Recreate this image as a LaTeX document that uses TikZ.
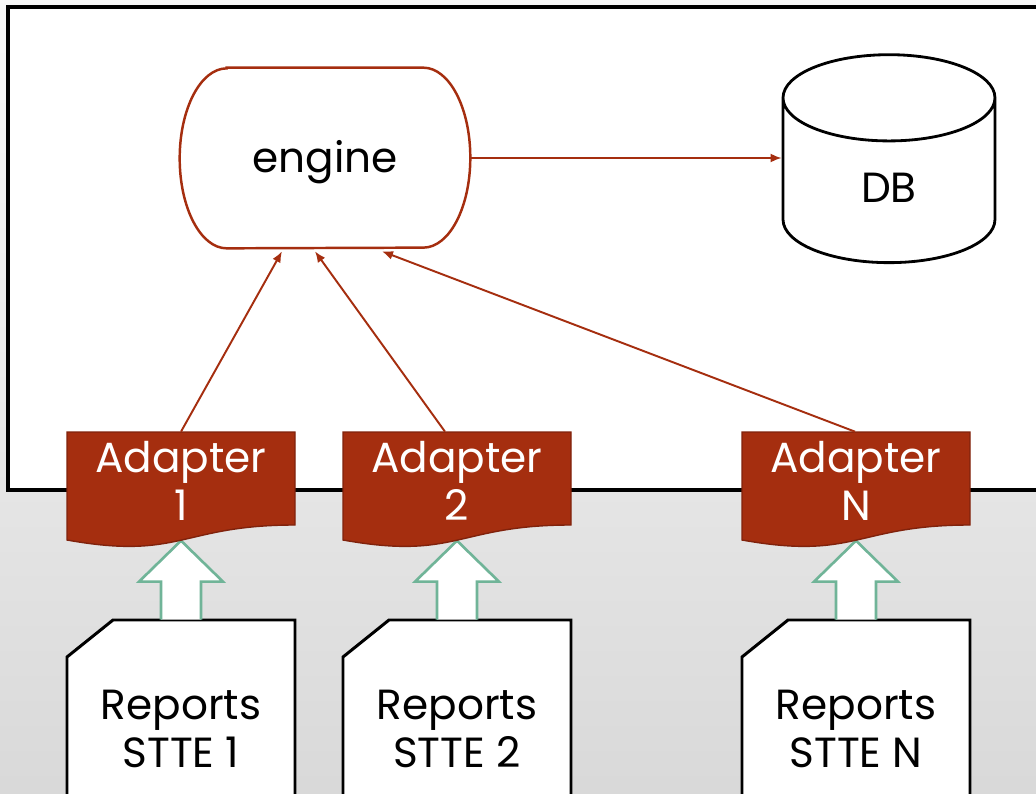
\documentclass[tikz,border=0pt]{standalone}
\usepackage{fontspec}
\setmainfont{Poppins}
\usetikzlibrary{arrows.meta,shapes.geometric}
\definecolor{rust}{RGB}{165,46,15}
\definecolor{rustdark}{RGB}{128,34,12}
\definecolor{mint}{RGB}{112,180,152}
\tikzset{%
  >={Latex[width=1.8mm,length=2.2mm]},
       base/.style = {minimum width=4.56cm, text centered, align=center,
                      font=\fontsize{24}{27}\selectfont},
  enginebox/.style = {base, minimum width=5.8cm, minimum height=3.6cm},
      dbbox/.style = {base, cylinder, shape border rotate=90, aspect=1.28,
                      draw=black, line width=1.6pt, fill=white,
                      minimum width=4.24cm, minimum height=4.16cm},
      adbox/.style = {base, minimum height=1.96cm, text=white},
     repbox/.style = {base, minimum height=4.36cm},
       link/.style = {->, draw=rust, line width=1.1pt},
    adshape/.style = {fill=rust, draw=rustdark, line width=0.8pt},
   repshape/.style = {fill=white, draw=black, line width=1.7pt},
    uparrow/.style = {fill=white, draw=mint, line width=1.5pt},
  adapterbox/.pic = {\path[adshape] (-114,-49) -- (114,-49) -- (114,44)
                      .. controls (0,44) and (0,79.5) .. (-114,59) -- cycle;},
   reportbox/.pic = {\path[repshape] (-114,-72) -- (-68,-109) -- (114,-109)
                      -- (114,120) -- (-114,120) -- cycle;},
}
\begin{document}
\begin{tikzpicture}[x=0.02cm, y=-0.02cm]
  \useasboundingbox (0,0) rectangle (1036,794);
  \shade[top color=gray!5, bottom color=gray!30] (0,0) rectangle (1036,794);
  \draw[line width=1.8pt, fill=white] (8,7) rectangle (1060,490);

  \node (engine) [enginebox] at (325,162) {engine};
  \draw[rust, line width=1.4pt]
    ([shift={(47,-4)}]engine.north west) -- ([shift={(-47,-4)}]engine.north east)
    arc[start angle=90, end angle=-90, x radius=0.94cm, y radius=1.8cm]
    -- ([shift={(47,-4)}]engine.south west)
    arc[start angle=270, end angle=90, x radius=0.94cm, y radius=1.8cm] -- cycle;

  \node (db) [dbbox] at (889,188) {DB};
  \draw[link] ([yshift=0.08cm]engine.east) -- ([yshift=0.08cm]engine.east -| db.west);

  % one column per STTE
  \foreach \n/\cx/\dx/\ex in {1/181/0/-43, 2/457/-12/-10, N/856/-1/57} {
    \pic at (\cx,729) {reportbox};
    \node (rep\n) [repbox] at (\cx,729) {Reports\\STTE \n};
    \path[uparrow] ([xshift=-0.4cm]rep\n.north) -- ++(0,-38) -- ++(-22,0)
      -- ++(42,-41) -- ++(42,41) -- ++(-22,0) -- ++(0,38);
    \pic at (\cx,481) {adapterbox};
    \node (ad\n) [adbox] at (\cx,481) {Adapter\\\n};
    \draw[link] ([shift={(\dx,0)}]ad\n.north) -- ([shift={(\ex,-1)}]engine.south);
  }
\end{tikzpicture}
\end{document}
